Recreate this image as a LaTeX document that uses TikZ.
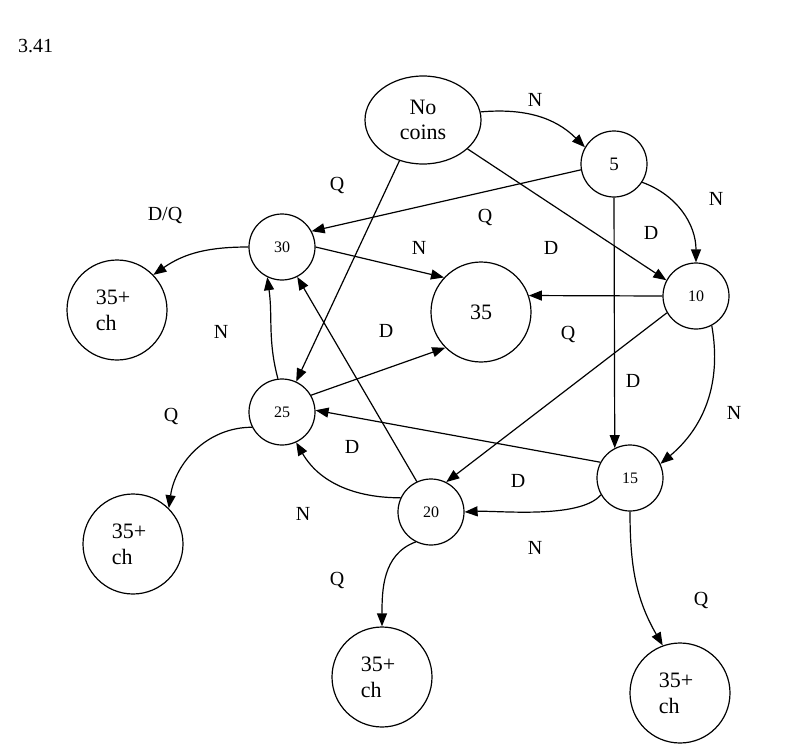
\documentclass[tikz,border=0pt]{standalone}
\usepackage{fontspec}
\setmainfont{Liberation Serif}
\usetikzlibrary{arrows.meta,shapes.geometric}
\begin{document}
\begin{tikzpicture}[x=1pt,y=-1pt,
  every node/.style={text=black},
  st/.style={circle,draw,line width=1.2pt,minimum size=66pt,inner sep=0pt,font=\fontsize{16}{18}\selectfont},
  bigst/.style={circle,draw,line width=1.2pt,minimum size=100pt,inner sep=0pt,font=\fontsize{22}{26}\selectfont},
  lbl/.style={font=\fontsize{20}{24}\selectfont,inner sep=0pt},
  arr/.style={line width=1.2pt,-{Triangle[length=13pt,width=10pt]}}]
\useasboundingbox (0,0) rectangle (793,752);
\node[lbl,anchor=base west] (title) at (18,53) {3.41};
% states
\node[ellipse,draw,line width=1.2pt,minimum width=116pt,minimum height=88pt,inner sep=0pt,align=center,font=\fontsize{22}{25}\selectfont] (nc) at (423,120) {No\\coins};
\node[st,font=\fontsize{19}{22}\selectfont] (s5) at (614,164) {5};
\node[st] (s10) at (696,296) {10};
\node[st] (s15) at (630,478) {15};
\node[st] (s20) at (431,512) {20};
\node[st] (s25) at (282,412) {25};
\node[st] (s30) at (282,247) {30};
\node[bigst] (s35) at (481,312) {35};
\node[bigst,align=left] (c1) at (117,310) {\hspace*{-8pt}35+\\\hspace*{-8pt}ch};
\node[bigst,align=left] (c2) at (133,544) {\hspace*{-8pt}35+\\\hspace*{-8pt}ch};
\node[bigst,align=left] (c3) at (382,677) {\hspace*{-8pt}35+\\\hspace*{-8pt}ch};
\node[bigst,align=left] (c4) at (680,693) {\hspace*{-8pt}35+\\\hspace*{-8pt}ch};
% transitions
\draw[arr] (nc.8) to[out=5,in=135] (s5.150);
\draw[arr] (nc.-33) -- (s10.152);
\draw[arr] (nc.-120) -- (s25.65);
\draw[arr] (s5.190) -- (s30.28);
\draw[arr] (s5.270) -- (s15.117);
\draw[arr] (s5.-33) to[out=-20,in=90] (s10.90);
\draw[arr] (s10.180) -- (s35.19);
\draw[arr] (s10.-150) -- (s20.63);
\draw[arr] (s10.-62) to[out=-80,in=40] (s15.25);
\draw[arr] (s15.152) -- (s25.3);
\draw[arr] (s15.-150) to[out=-130,in=3,looseness=0.6] (s20.0);
\draw[arr] (s15.270) to[out=-90,in=120] (c4.110);
\draw[arr] (s20.155) to[out=180,in=-60] (s25.-65);
\draw[arr] (s20.115) -- (s30.-63);
\draw[arr] (s20.-117) to[out=-160,in=90] (c3.90);
\draw[arr] (s25.97) to[out=105,in=-82] (s30.-116);
\draw[arr] (s25.30) -- (s35.-135);
\draw[arr] (s25.-153) to[out=180,in=82] (c2.45);
\draw[arr] (s30.0) -- (s35.137);
\draw[arr] (s30.180) to[out=180,in=35] (c1.44);
% labels
\node[lbl] (l1) at (535,100) {N};
\node[lbl] (l2) at (337,185) {Q};
\node[lbl] (l3) at (165,215) {D/Q};
\node[lbl] (l4) at (485,217) {Q};
\node[lbl] (l5) at (716,199) {N};
\node[lbl] (l6) at (651,233) {D};
\node[lbl] (l7) at (551,248) {D};
\node[lbl] (l8) at (419,248) {N};
\node[lbl] (l9) at (221,332) {N};
\node[lbl] (l10) at (386,331) {D};
\node[lbl] (l11) at (568,334) {Q};
\node[lbl] (l12) at (633,381) {D};
\node[lbl] (l13) at (734,413) {N};
\node[lbl] (l14) at (171,416) {Q};
\node[lbl] (l15) at (352,447) {D};
\node[lbl] (l16) at (518,481) {D};
\node[lbl] (l17) at (303,514) {N};
\node[lbl] (l18) at (535,548) {N};
\node[lbl] (l19) at (337,580) {Q};
\node[lbl] (l20) at (701,600) {Q};
\end{tikzpicture}
\end{document}
